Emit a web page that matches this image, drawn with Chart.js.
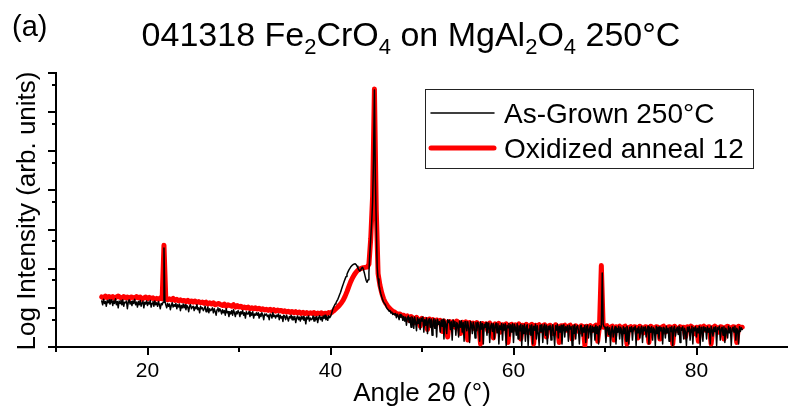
<!DOCTYPE html>
<html>
<head>
<meta charset="utf-8">
<script src="https://cdn.jsdelivr.net/npm/chart.js@4/dist/chart.umd.min.js"></script>
<style>
  html, body { margin: 0; padding: 0; background: #fff; }
  #wrap { width: 788px; height: 410px; position: relative; }
</style>
</head>
<body>
<div id="wrap"><canvas id="c" width="788" height="410"></canvas></div>
<script>
// ---- scan definitions (2θ grids of the two measurements) ----
const scanStart = 15;          // degrees 2θ
const asGrownStep = 0.1;       // degrees 2θ per point
const oxidizedStep = 0.2;      // degrees 2θ per point

// ---- series (intensity, arb. units); one row = 1 degree ----
const asGrown = [
  15,12,16.5,13,14.5,11,15.5,13.5,16,12.5,          // 15
  14,16,11.5,15,13,17,12,14.5,10,15,                // 16
  13,15.5,12,16,11,14,13.5,15,9.5,14,               // 17
  16,12.5,14.5,11.5,15,13,16.5,12,14,10.5,          // 18
  14.5,12,15.5,11,13.5,15,10,14,12.5,15,            // 19
  11.5,14,12.5,15.5,10.5,13,14.5,11,15,12,          // 20
  13.5,11,14.5,12,9.5,13,12,14,340,15,              // 21
  12,10,13,11,12.5,9,11.5,13.5,10.5,12,             // 22
  11,13,9.5,12,10.5,12.5,8.5,11.5,10,12.5,          // 23
  10,12,9,11.5,10.5,8,11,12,9.5,10.5,               // 24
  11,8.5,10.5,9.5,12,9,10,7.5,11,9.5,               // 25
  10,8.5,9.5,11,8,9,10.5,7.5,9.5,8.5,               // 26
  9,10,7.5,9.5,8,6.5,9,10,8,9.5,                    // 27
  8.5,7,9,7.5,8.5,6.5,9.5,7.5,8,6,                  // 28
  8,7,8.5,6.5,9,7.5,6,8,7,8.5,                      // 29
  7.5,6,8,7,8.5,6.5,7.5,5.5,8,7,                    // 30
  7,8,6,7.5,6.5,8,5.5,7,6.5,7.5,                    // 31
  6.5,7.5,5.5,7,6,7.5,6.5,5,7,6.5,                  // 32
  7,6,6.5,5,7,6.5,5.5,7.5,6,6.5,                    // 33
  5.5,6.5,6,7,5,6.5,5.5,6,4.5,6.5,                  // 34
  6,5,6.5,5.5,4.6,6,5.5,6.5,5,6,                    // 35
  5,6,4.2,5.5,6.2,5,5.8,4.6,6,5.2,                  // 36
  6,4.8,5.6,3.9,5.8,5.2,6.2,4.6,5.5,5,              // 37
  5.2,6.2,4.6,5.8,5,6,4.2,5.6,6.3,5,                // 38
  5.8,4.6,6.2,5.4,6.5,5,5.9,4.8,6.3,5.6,            // 39
  6,7,8.5,10,11,12.5,13.5,15,16.5,19,               // 40
  22,25,30,35,41,48,55,63,72,82,                    // 41
  92,101,110,117,124,129,132,133,128,116,           // 42
  103,94,87,92,104,108,96,78,62,50,                 // 43
  45,52,80,250,600,1500,5000,60000,3700000,20000,   // 44
  1500,110,55,38,29,23,19,16,14,13,                 // 45
  12,10.5,9.5,9,8.2,8.6,7.4,7.8,6.8,7.2,            // 46
  6.6,7.2,5.6,6.9,6.2,5,6.8,5.8,6.4,4.8,            // 47
  6,4.6,5.8,3.6,5.5,6.2,4.2,5.7,3.2,5.9,            // 48
  5.4,3,5.8,4.4,2.6,5.6,4,5.2,2.8,5.5,              // 49
  4.6,5.8,2.4,5,3.6,5.5,2.2,4.8,5.3,3.2,            // 50
  5.2,2,4.6,5.3,3,4.9,1.8,5.1,3.8,4.4,              // 51
  2.4,4.9,3.4,5.1,1.6,4.6,3.9,2.2,5,4.2,            // 52
  4.8,2.8,4.4,1.5,4.9,3.4,4.5,2,4.2,3.8,            // 53
  1.8,4.6,3.2,4.7,2.4,4.2,1.4,4.5,3.6,2.6,          // 54
  4.4,3,1.3,4.5,3.8,2.2,4.3,3.4,1.7,4.2,            // 55
  2.6,4.3,3.6,1.4,4.4,2.9,4,1.2,3.8,3.2,            // 56
  4.2,2,3.7,4.1,1.3,3.4,4,2.5,3.9,1.6,              // 57
  3.6,4.1,2.3,3.9,1.2,3.5,2.8,4,1.5,3.8,            // 58
  2.7,3.9,1.1,3.6,3.1,4,1.9,3.7,2.4,3.9,            // 59
  1.3,3.8,3.2,2,3.9,1.6,3.5,2.6,3.8,1.1,            // 60
  3.6,2.2,3.8,1.4,3.3,3.7,1.1,2.9,3.6,2,            // 61
  3.7,1.2,3.4,2.7,3.8,1.6,3.5,2.3,1.1,3.6,          // 62
  2.5,3.7,1.3,3.3,3.8,2,3.6,1.2,3.4,2.8,            // 63
  3.6,1.5,3.2,3.7,2.2,1.1,3.5,2.7,3.8,1.7,          // 64
  3.4,2.4,3.6,1.2,3.1,3.7,1.8,3.3,2.6,3.5,          // 65
  1.4,3.6,2.9,3.3,1.1,3.5,2.2,3.7,1.6,3.2,          // 66
  3.5,2.6,1.2,3.4,3.6,1.9,3.1,2.4,3.6,1.3,          // 67
  3.3,3.6,1.7,2.9,3.5,1.1,3.4,2.5,3.2,1.5,          // 68
  3.6,2.2,3.3,1.2,3.5,2.8,3.4,78,3.8,3.3,           // 69
  3.2,1.3,2.9,3.3,2.1,3.1,1.1,2.7,3.4,1.8,          // 70
  2.6,3.3,1.2,3,2.4,3.4,1.6,3.2,2.8,1.1,            // 71
  3.3,2.2,3.1,1.4,3.4,2.7,1.2,3.2,2.5,3.3,          // 72
  1.5,3.1,2.8,3.4,1.1,3,2.3,3.3,1.7,2.9,            // 73
  3.4,1.3,3.2,2.6,3.3,1.8,2.9,3.4,1.2,3.1,          // 74
  2.4,3.3,1.5,3.1,2.8,1.1,3.4,2.2,3.2,1.6,          // 75
  3.3,2.6,3.1,1.2,3.2,2.9,1.7,3.4,2.3,3,            // 76
  1.4,3.2,2.5,3.3,1.1,3,3.4,1.9,2.8,3.2,            // 77
  2.1,3.4,1.3,3.1,2.7,3.3,1.6,3,2.4,1.1,            // 78
  3.2,2.5,3.3,1.5,2.9,3.4,1.2,3.1,2.6,3.3,          // 79
  1.8,3,2.3,3.4,1.1,3.2,2.8,1.4,3.3,2.6,            // 80
  3.1,1.6,3.3,2.4,3,1.2,3.4,2.7,1.9,3.2,            // 81
  2.5,3.3,1.1,3.1,2.8,3.4,1.5,2.9,3.2,2,            // 82
  3.3,1.3,3,2.6,1.7,3.4,2.3,3.1,1.1,2.9,            // 83
  3.2,2.4,3.4,1.5,3,2.7,1.2,3.3,2.5,3.1,            // 84
  2.8                                               // 85
];

const oxidized = [
  19,18,20,18.5,19.5,  // 15
  18,19.5,17.5,19,20,  // 16
  18.5,17.5,19.5,18,19,// 17
  17,19,18.5,17.5,19.5,// 18
  18,19,16.5,18,19,    // 19
  17,18.5,17.5,18,16.5,// 20
  17.5,16.5,18,17,400, // 21
  17,16,17,16,17.5,    // 22
  15.5,16.5,15,16,15,  // 23
  15.5,14.5,15.5,14,15,// 24
  14,15,13.5,14.5,13.5,// 25
  14,13,14,12.5,13.5,  // 26
  12.5,13.5,12,12.5,13,// 27
  12,11.5,12.5,11,12,  // 28
  11.5,11,12,10.5,11.5,// 29
  10.5,11,10,10.5,9.8, // 30
  10.5,9.5,10,9.5,10,  // 31
  9.3,9.8,9,9.5,8.8,   // 32
  9.2,8.6,9.2,8.4,9,   // 33
  8.2,8.8,8.3,8.6,8,   // 34
  8.4,7.8,8.2,7.6,8.1, // 35
  7.5,8,7.4,7.8,7.2,   // 36
  7.7,7.1,7.6,7,7.5,   // 37
  7.2,7.6,6.9,7.4,7.1, // 38
  7.5,6.9,7.3,7.1,7.6, // 39
  7.3,7.9,8.6,9.5,10.5,// 40
  11.8,13.5,16,20,26,  // 41
  35,46,58,70,82,      // 42
  92,98,103,106,108,   // 43
  110,130,600,7000,3900000, // 44
  3200,75,38,24,17,    // 45
  13.5,11.5,10,9,8.2,  // 46
  7.8,7.2,6.8,7,6.3,   // 47
  6.5,5.6,6.2,4.8,6,   // 48
  5.5,4.2,5.7,5,3.4,   // 49
  5.4,4.6,5.1,2.8,5.2, // 50
  4.4,5,3.6,4.9,4.2,   // 51
  4.8,2.5,4.6,4.1,1.8, // 52
  4.5,3.8,4.4,3.2,4.6, // 53
  4.1,2.2,4.3,3.7,4.4, // 54
  1.5,4.2,3.5,4.1,2.9, // 55
  4.2,3.8,1.2,4,3.4,   // 56
  3.9,2.6,4.1,3.6,1.7, // 57
  3.9,3.3,4,2.4,3.7,   // 58
  3.5,3.9,1.3,3.6,3.8, // 59
  2.8,3.7,3.4,3.9,1.6, // 60
  3.6,3.3,3.8,2.3,3.5, // 61
  3.8,1.2,3.6,3.4,3.7, // 62
  2.6,3.5,3.7,1.8,3.4, // 63
  3.6,3.2,2.2,3.7,3.3, // 64
  1.3,3.5,3.4,3.6,2.7, // 65
  3.4,3.6,1.6,3.3,3.5, // 66
  3.2,2.4,3.5,3.3,1.1, // 67
  3.4,3.1,3.5,2.6,3.3, // 68
  3.6,1.4,3.4,121,3.2, // 69
  3.3,3.5,2.1,3.2,3.4, // 70
  1.5,3.3,3.1,3.4,2.5, // 71
  3.2,3.4,1.2,3.1,3.3, // 72
  2.8,3.3,3.2,1.7,3.4, // 73
  3.1,2.3,3.3,3.2,1.3, // 74
  3.4,3.1,2.7,3.3,3.2, // 75
  1.6,3.2,3.4,2.4,3.1, // 76
  3.3,3.2,1.2,3.4,3,   // 77
  2.6,3.3,3.1,3.2,1.8, // 78
  3.3,2.9,3.4,3.1,2.2, // 79
  3.2,1.4,3.3,3.1,3.4, // 80
  2.7,3.2,3.3,1.2,3.1, // 81
  3.4,3.1,2.4,3.3,3.2, // 82
  1.6,3.2,3.4,3.1,2.8, // 83
  3.3,3.2,1.3,3.4,3.1, // 84
  3.2                  // 85
];

const seriesLabels = ['As-Grown 250°C', 'Oxidized anneal 12'];

// ---- axes / ticks ----
const xRange = [10, 90];
const xMajorTicks = [20, 40, 60, 80];
const xMinorTicks = [10, 30, 50, 70];
const xTickLabels = ['20', '40', '60', '80'];
const yRange = [1, 1e7];
const yMajorTicks = [1, 10, 100, 1e3, 1e4, 1e5, 1e6, 1e7];
const yMinorTicks = [5, 50, 500, 5e3, 5e4, 5e5, 5e6];

const titleParts = [['041318 Fe', 0], ['2', 1], ['CrO', 0], ['4', 1], [' on MgAl', 0], ['2', 1], ['O', 0], ['4', 1], [' 250°C', 0]];
const panelLabel = '(a)';
const xTitle = 'Angle 2θ (°)';
const yTitle = 'Log Intensity (arb. units)';

function toPoints(vals, step) {
  return vals.map((v, i) => ({ x: +(scanStart + i * step).toFixed(2), y: v }));
}

const FONT = '"Liberation Sans", Arial, sans-serif';

const decorations = {
  id: 'decorations',
  afterDraw(chart) {
    const { ctx, chartArea: ca, scales: { x, y } } = chart;
    ctx.save();
    ctx.strokeStyle = '#000';
    ctx.fillStyle = '#000';
    ctx.lineWidth = 2;
    ctx.lineCap = 'butt';
    const seg = (x1, y1, x2, y2) => { ctx.beginPath(); ctx.moveTo(x1, y1); ctx.lineTo(x2, y2); ctx.stroke(); };
    // x ticks
    xMajorTicks.forEach(v => { const p = Math.round(x.getPixelForValue(v)); seg(p, ca.bottom, p, ca.bottom + 8); });
    xMinorTicks.forEach(v => { const p = Math.round(x.getPixelForValue(v)); seg(p, ca.bottom, p, ca.bottom + 5); });
    // y ticks
    yMajorTicks.forEach(v => { const p = Math.round(y.getPixelForValue(v)); seg(ca.left - 8, p, ca.left, p); });
    yMinorTicks.forEach(v => { const p = Math.round(y.getPixelForValue(v)); seg(ca.left - 4, p, ca.left, p); });

    // x tick labels
    ctx.font = '21px ' + FONT;
    ctx.textAlign = 'center';
    ctx.textBaseline = 'alphabetic';
    xMajorTicks.forEach((v, i) => ctx.fillText(xTickLabels[i], x.getPixelForValue(v), 377));

    // axis titles
    ctx.font = '26px ' + FONT;
    ctx.fillText(xTitle, (ca.left + ca.right) / 2, 401);
    ctx.save();
    ctx.translate(35, 211);
    ctx.rotate(-Math.PI / 2);
    ctx.fillText(yTitle, 0, 0);
    ctx.restore();

    // panel label
    ctx.textAlign = 'left';
    ctx.font = '29px ' + FONT;
    ctx.fillText(panelLabel, 12, 36);

    // title with subscripts
    const mainF = '34px ' + FONT, subF = '22px ' + FONT;
    let total = 0;
    titleParts.forEach(([t, s]) => { ctx.font = s ? subF : mainF; total += ctx.measureText(t).width; });
    let tx = 411 - total / 2;
    titleParts.forEach(([t, s]) => {
      ctx.font = s ? subF : mainF;
      ctx.fillText(t, tx, s ? 54 : 46);
      tx += ctx.measureText(t).width;
    });

    // legend
    ctx.lineWidth = 1;
    ctx.strokeStyle = '#222';
    ctx.strokeRect(425.5, 89.5, 328, 79);
    const ds = chart.data.datasets;
    const rows = [113, 148];
    ctx.font = '28px ' + FONT;
    ds.forEach((d, i) => {
      ctx.strokeStyle = d.borderColor;
      ctx.lineWidth = i === 0 ? 1.5 : d.borderWidth;
      ctx.lineCap = 'round';
      seg(431, rows[i], 494, rows[i]);
      ctx.fillStyle = '#000';
      ctx.fillText(d.label, 504, rows[i] + 10);
    });
    ctx.restore();
  }
};

new Chart(document.getElementById('c'), {
  type: 'line',
  data: {
    datasets: [
      { label: seriesLabels[0], data: toPoints(asGrown, asGrownStep), borderColor: '#000000', borderWidth: 1.5,
        pointRadius: 0, tension: 0, borderJoinStyle: 'round', borderCapStyle: 'round', fill: false },
      { label: seriesLabels[1], data: toPoints(oxidized, oxidizedStep), borderColor: '#ff0000', borderWidth: 5,
        pointRadius: 0, tension: 0, borderJoinStyle: 'round', borderCapStyle: 'round', fill: false }
    ]
  },
  options: {
    responsive: false,
    animation: false,
    events: [],
    layout: { padding: { top: 73, right: 0, left: 0, bottom: 0 } },
    scales: {
      x: {
        type: 'linear', min: xRange[0], max: xRange[1],
        afterFit: s => { s.height = 63; },
        grid: { display: false },
        border: { display: true, color: '#000', width: 2 },
        ticks: { display: false }
      },
      y: {
        type: 'logarithmic', min: yRange[0], max: yRange[1],
        afterFit: s => { s.width = 56; },
        grid: { display: false },
        border: { display: true, color: '#000', width: 2 },
        ticks: { display: false }
      }
    },
    plugins: { legend: { display: false }, tooltip: { enabled: false }, title: { display: false } }
  },
  plugins: [decorations]
});
</script>
</body>
</html>
